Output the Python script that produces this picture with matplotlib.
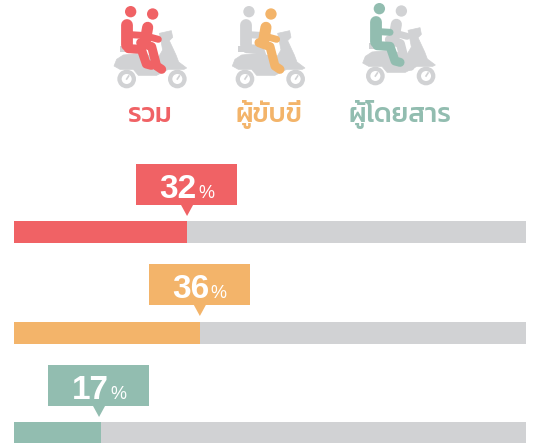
"""
Scooter riders chart: share for all / rider / passenger, on one pixel-sized axes.
"""
import matplotlib
matplotlib.use("Agg")
import matplotlib.pyplot as plt
from matplotlib.patches import Circle, Polygon, Rectangle

plt.rcParams['font.family'] = ['Liberation Sans', 'DejaVu Sans']
THAI_FONTS = ['Kanit', 'Prompt', 'Noto Sans Thai', 'DejaVu Sans']

WIDTH, HEIGHT = 534, 443

GROUPS = ["รวม", "ผู้ขับขี่", "ผู้โดยสาร"]
VALUE_LABELS = ["32", "36", "17"]
# bar lengths, share of the grey track
BAR_SHARES = [33.8, 36.3, 17.0]
TRACK_TOTAL = 100

RED = "#f06265"
ORANGE = "#f3b46a"
GREEN = "#92bdb0"
GREY = "#d1d2d4"
COLOURS = [RED, ORANGE, GREEN]

BAR_LEFT = 14
BAR_SCALE = 5.12
BAR_TOPS = [221, 322, 422]
BAR_H = 22
CALLOUT_TOPS = [164, 264, 365]
CALLOUT_SHIFT = [0, 0, -2]

# icon drawing, in units of 1/3 pixel
ICON_ORIGINS = [(100, 0), (218.3, 0), (348.7, -3)]
LABEL_X = [150, 269, 400]
REAR_COLOURS = [RED, GREY, GREEN]
FRONT_COLOURS = [RED, ORANGE, GREY]


def draw_scooter(ax, ox, oy):
    def pt(x, y):
        return (ox + x / 3, oy + y / 3)

    body = [(42, 198), (50, 178), (70, 165), (120, 160), (175, 172), (188, 150),
            (182, 118), (178, 100), (214, 92), (218, 112), (208, 122), (228, 165),
            (236, 186), (260, 204), (252, 208), (205, 208), (170, 226), (115, 226),
            (100, 208), (60, 208)]
    ax.add_patch(Polygon([pt(*p) for p in body], closed=True, fc=GREY, ec=GREY, lw=0.5, zorder=3))
    # seat
    ax.add_patch(Rectangle(pt(60, 138), 62 / 3, 18 / 3, fc=GREY, ec="none", zorder=3))
    for wx in (80, 232):
        ax.add_patch(Circle(pt(wx, 237), 28 / 3, fc=GREY, ec="none", zorder=3))
        ax.add_patch(Circle(pt(wx, 237), 15 / 3, fc="white", ec="none", zorder=3))
        ax.plot(*zip(pt(wx, 237), pt(wx + 6, 228)), color=GREY, lw=1.2, zorder=3)


def draw_limb(ax, ox, oy, pts, colour, lw, zorder):
    xs = [ox + p[0] / 3 for p in pts]
    ys = [oy + p[1] / 3 for p in pts]
    ax.plot(xs, ys, color=colour, lw=lw, solid_capstyle="round", solid_joinstyle="round", zorder=zorder)


def draw_rear_rider(ax, ox, oy, colour, z):
    ax.add_patch(Circle((ox + 92 / 3, oy + 35 / 3), 17 / 3, fc=colour, ec="none", zorder=z))
    draw_limb(ax, ox, oy, [(82, 74), (82, 134)], colour, 8.5, z)
    draw_limb(ax, ox, oy, [(92, 104), (124, 106)], colour, 5.0, z)
    draw_limb(ax, ox, oy, [(85, 146), (124, 148), (139, 192), (154, 196)], colour, 6.5, z)


def draw_front_rider(ax, ox, oy, colour, z):
    ax.add_patch(Circle((ox + 158 / 3, oy + 42 / 3), 17 / 3, fc=colour, ec="none", zorder=z))
    draw_limb(ax, ox, oy, [(143, 82), (135, 128)], colour, 8.0, z)
    draw_limb(ax, ox, oy, [(145, 110), (175, 118)], colour, 5.0, z)
    draw_limb(ax, ox, oy, [(122, 128), (155, 140), (170, 198), (185, 208)], colour, 6.5, z)


def main():
    fig = plt.figure(figsize=(WIDTH / 100, HEIGHT / 100), dpi=100)
    ax = fig.add_axes([0, 0, 1, 1])
    ax.set_xlim(0, WIDTH)
    ax.set_ylim(HEIGHT, 0)
    ax.axis("off")

    for i, group in enumerate(GROUPS):
        ox, oy = ICON_ORIGINS[i]
        colour = COLOURS[i]
        draw_scooter(ax, ox, oy)
        # coloured rider goes over the grey one
        rear_z, front_z = (4, 5) if i != 2 else (5, 4)
        draw_rear_rider(ax, ox, oy, REAR_COLOURS[i], rear_z)
        draw_front_rider(ax, ox, oy, FRONT_COLOURS[i], front_z)
        ax.text(LABEL_X[i], 122, group, color=colour, fontsize=19.5, family=THAI_FONTS,
                fontweight="medium", ha="center", va="baseline", zorder=6)

        # track and bar
        top = BAR_TOPS[i]
        centre = top + BAR_H / 2
        ax.barh(centre, TRACK_TOTAL * BAR_SCALE, height=BAR_H, left=BAR_LEFT, color=GREY, zorder=1)
        ax.barh(centre, BAR_SHARES[i] * BAR_SCALE, height=BAR_H, left=BAR_LEFT, color=colour, zorder=2)

        # callout box with pointer
        end_x = BAR_LEFT + BAR_SHARES[i] * BAR_SCALE
        mid = end_x + CALLOUT_SHIFT[i]
        box_top = CALLOUT_TOPS[i]
        ax.add_patch(Rectangle((mid - 51, box_top), 101, 41, fc=colour, ec="none", zorder=2))
        ax.add_patch(Polygon([(mid - 6, box_top + 41), (mid + 6, box_top + 41), (mid, box_top + 52)],
                             closed=True, fc=colour, ec="none", zorder=2))
        ax.text(mid - 9, box_top + 34, VALUE_LABELS[i], color="white", fontsize=24, fontweight="bold",
                ha="center", va="baseline", zorder=3)
        ax.text(mid + 19, box_top + 34, "%", color="white", fontsize=13, ha="center",
                va="baseline", zorder=3)

    fig.savefig("out.png", dpi=100)


if __name__ == "__main__":
    main()
